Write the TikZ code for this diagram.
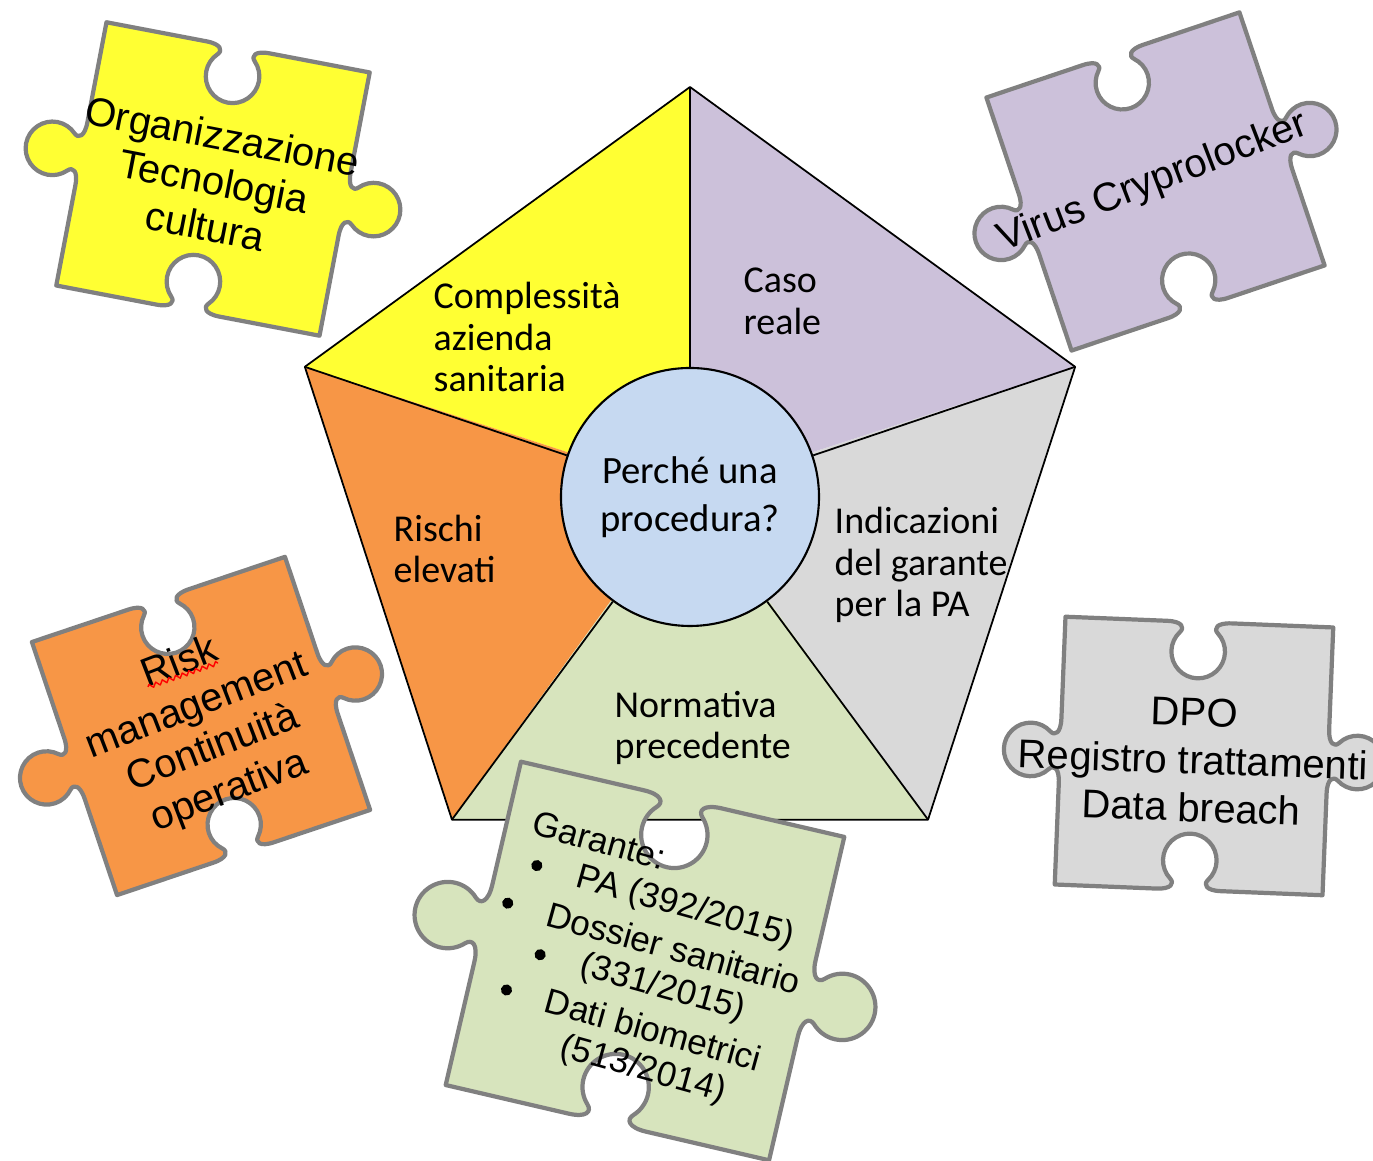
\documentclass[tikz,border=0pt]{standalone}
\usepackage{fontspec}
\setmainfont{Liberation Sans}
\newfontfamily\calibrifont{Carlito}
\usepackage{tikz}
\usetikzlibrary{decorations.pathmorphing}

\definecolor{segyellow}{RGB}{255,255,51}
\definecolor{segpurple}{RGB}{204,193,218}
\definecolor{seggray}{RGB}{217,217,217}
\definecolor{seggreen}{RGB}{215,228,189}
\definecolor{segorange}{RGB}{247,150,70}
\definecolor{hubblue}{RGB}{198,217,241}
\definecolor{edgegray}{RGB}{128,128,128}

% one puzzle piece on the square -1..1: holes top and bottom, knobs left and right
\tikzset{
  pics/puzzle/.style={code={
    \draw[draw=edgegray,line width=1.2pt,line join=round,fill=#1]
      (-1,1) -- (-0.24,1)
      .. controls (-0.13,1) and (-0.106,0.956) .. (-0.141,0.921)
      .. controls (-0.1785,0.8835) and (-0.2,0.833) .. (-0.2,0.78)
      .. controls (-0.2,0.67) and (-0.11,0.58) .. (0,0.58)
      .. controls (0.11,0.58) and (0.2,0.67) .. (0.2,0.78)
      .. controls (0.2,0.833) and (0.1785,0.8835) .. (0.141,0.921)
      .. controls (0.106,0.956) and (0.13,1) .. (0.24,1)
      -- (1,1) -- (1,0.24)
      .. controls (1,0.13) and (1.044,0.106) .. (1.079,0.141)
      .. controls (1.1165,0.1785) and (1.167,0.2) .. (1.22,0.2)
      .. controls (1.33,0.2) and (1.42,0.11) .. (1.42,0)
      .. controls (1.42,-0.11) and (1.33,-0.2) .. (1.22,-0.2)
      .. controls (1.167,-0.2) and (1.1165,-0.1785) .. (1.079,-0.141)
      .. controls (1.044,-0.106) and (1,-0.13) .. (1,-0.24)
      -- (1,-1) -- (0.24,-1)
      .. controls (0.13,-1) and (0.106,-0.956) .. (0.141,-0.921)
      .. controls (0.1785,-0.8835) and (0.2,-0.833) .. (0.2,-0.78)
      .. controls (0.2,-0.67) and (0.11,-0.58) .. (0,-0.58)
      .. controls (-0.11,-0.58) and (-0.2,-0.67) .. (-0.2,-0.78)
      .. controls (-0.2,-0.833) and (-0.1785,-0.8835) .. (-0.141,-0.921)
      .. controls (-0.106,-0.956) and (-0.13,-1) .. (-0.24,-1)
      -- (-1,-1) -- (-1,-0.24)
      .. controls (-1,-0.13) and (-1.044,-0.106) .. (-1.079,-0.141)
      .. controls (-1.1165,-0.1785) and (-1.167,-0.2) .. (-1.22,-0.2)
      .. controls (-1.33,-0.2) and (-1.42,-0.11) .. (-1.42,0)
      .. controls (-1.42,0.11) and (-1.33,0.2) .. (-1.22,0.2)
      .. controls (-1.167,0.2) and (-1.1165,0.1785) .. (-1.079,0.141)
      .. controls (-1.044,0.106) and (-1,0.13) .. (-1,0.24)
      -- cycle;
  }}
}

\begin{document}
\begin{tikzpicture}[line join=round,
  segline/.style={line width=0.5pt},
  segtext/.style={font=\calibrifont\fontsize{10.8}{11.9}\selectfont,align=left,anchor=west,inner sep=0pt},
  piecetext/.style={font=\fontsize{11.4}{13}\selectfont,align=center,inner sep=0pt},
  listtext/.style={font=\fontsize{10}{12}\selectfont,inner sep=0pt}]
\useasboundingbox (0,0) rectangle (13.73,11.61);

% pentagon
\coordinate (c) at (6.90,6.69);
\path (c) ++(90:4.05) coordinate (v0);
\path (c) ++(162:4.05) coordinate (v1);
\path (c) ++(234:4.05) coordinate (v2);
\path (c) ++(306:4.05) coordinate (v3);
\path (c) ++(18:4.05) coordinate (v4);
\fill[segyellow] (c) -- (v0) -- (v1) -- cycle;
\fill[segorange] (c) -- (v1) -- (v2) -- cycle;
\fill[seggreen] (c) -- (v2) -- (v3) -- cycle;
\fill[seggray] (c) -- (v3) -- (v4) -- cycle;
\fill[segpurple] (c) -- (v4) -- (v0) -- cycle;
\draw[segline] (v0) -- (v1) -- (v2) -- (v3) -- (v4) -- cycle;

\node[circle,draw,line width=0.6pt,fill=hubblue,minimum size=2.58cm,inner sep=0pt,align=center,
  font=\calibrifont\fontsize{11}{13.6}\selectfont] (hub) at (6.90,6.64) {Perché una\\procedura?};
\draw[segline] (v0) -- (hub);
\draw[segline] (v1) -- (hub);
\draw[segline] (v2) -- (hub);
\draw[segline] (v3) -- (hub);
\draw[segline] (v4) -- (hub);

\node[segtext] (complessita) at (4.33,8.24) {Complessità\\azienda\\sanitaria};
\node[segtext] (caso) at (7.43,8.60) {Caso\\reale};
\node[segtext] (rischi) at (3.93,6.12) {Rischi\\elevati};
\node[segtext] (indicazioni) at (8.34,5.96) {Indicazioni\\del garante\\per la PA};
\node[segtext] (normativa) at (6.14,4.33) {Normativa\\precedente};

% puzzle pieces
\pic[rotate=-10.8,scale=1.34] at (2.13,9.82) {puzzle=segyellow};
\pic[rotate=18.6,scale=1.335] at (11.555,9.795) {puzzle=segpurple};
\pic[rotate=18.6,scale=1.335] at (2.01,4.35) {puzzle=segorange};
\pic[rotate=-2.3,scale=1.34] at (11.94,4.05) {puzzle=seggray};
\pic[rotate=-13.1,scale=1.66] at (6.45,2.00) {puzzle=seggreen};

\node[piecetext,rotate=-11] (org) at (2.14,9.80) {Organizzazione\\Tecnologia\\cultura};
\node[piecetext,rotate=21] (virus) at (11.53,9.78) {Virus Cryprolocker};
\node[piecetext,rotate=21] (risk) at (2.05,4.33) {Risk\\management\\Continuità\\operativa};
\draw[red,line width=0.4pt,decorate,decoration={zigzag,segment length=2pt,amplitude=0.6pt}]
  (1.48,4.74) -- (2.18,4.98);
\node[piecetext,rotate=-2,font=\fontsize{11.4}{13.6}\selectfont] (dpo) at (11.93,4.01) {DPO\\Registro trattamenti\\Data breach};

\begin{scope}[shift={(6.45,1.99)},rotate=-15.5]
\node[listtext,rotate=-15.5] (garante) at (-0.765,1.05) {Garante:};
\node[listtext,rotate=-15.5] (pa) at (0.24,0.63) {PA (392/2015)};
\node[listtext,rotate=-15.5] (dossier) at (0.24,0.21) {Dossier sanitario};
\node[listtext,rotate=-15.5] (dossiernum) at (0.24,-0.21) {(331/2015)};
\node[listtext,rotate=-15.5] (biometrici) at (0.26,-0.63) {Dati biometrici};
\node[listtext,rotate=-15.5] (biometricinum) at (0.27,-1.05) {(513/2014)};
\fill (-1.30,0.64) circle (1.6pt);
\fill (-1.48,0.20) circle (1.6pt);
\fill (-1.03,-0.21) circle (1.6pt);
\fill (-1.26,-0.64) circle (1.6pt);
\end{scope}
\end{tikzpicture}
\end{document}
